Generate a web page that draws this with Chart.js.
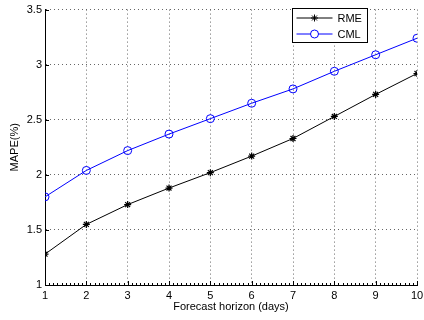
<!DOCTYPE html>
<html>
<head>
<meta charset="utf-8">
<script src="https://cdn.jsdelivr.net/npm/chart.js@4.4.1/dist/chart.umd.min.js"></script>
<style>
  html, body { margin: 0; padding: 0; background: #fff; }
  #wrap { position: relative; width: 424px; height: 320px; }
</style>
</head>
<body>
<div id="wrap"><canvas id="grafica" width="424" height="320"></canvas></div>
<script>
// horizonte de prediccion (dias) y error MAPE de cada metodo
const horizontes = [1, 2, 3, 4, 5, 6, 7, 8, 9, 10];
const mapeRME = [1.28, 1.55, 1.73, 1.88, 2.02, 2.17, 2.33, 2.53, 2.73, 2.92];
const mapeCML = [1.80, 2.04, 2.22, 2.37, 2.51, 2.65, 2.78, 2.94, 3.09, 3.24];
const yTicks = [1, 1.5, 2, 2.5, 3, 3.5];
const yTickLabels = ['1', '1.5', '2', '2.5', '3', '3.5'];
const xTickLabels = ['1', '2', '3', '4', '5', '6', '7', '8', '9', '10'];

const fuente = '"Liberation Sans", Arial, Helvetica, sans-serif';

const puntos = (vals) => horizontes.map((h, i) => ({ x: h, y: vals[i] }));

// ticks hacia adentro estilo matlab + leyenda con linea y marcador
const ejesMatlab = {
  id: 'ejesMatlab',
  afterDraw(chart) {
    const ctx = chart.ctx;
    const xs = chart.scales.x, ys = chart.scales.y;
    const a = chart.chartArea;
    ctx.save();
    ctx.strokeStyle = '#000';
    ctx.lineWidth = 1;
    ctx.beginPath();
    // menores en x cada 0.1
    for (let v = horizontes[0]; v <= horizontes[horizontes.length - 1] + 1e-6; v += 0.1) {
      const px = Math.round(xs.getPixelForValue(v)) + 0.5;
      const mayor = Math.abs(v - Math.round(v)) < 1e-6;
      ctx.moveTo(px, a.bottom);
      ctx.lineTo(px, a.bottom - (mayor ? 4 : 2));
    }
    yTicks.forEach(v => {
      const py = Math.round(ys.getPixelForValue(v)) + 0.5;
      ctx.moveTo(a.left, py);
      ctx.lineTo(a.left + 4, py);
    });
    ctx.stroke();

    // leyenda
    const bx = 292.5, by = 8.5, bw = 75, bh = 34;
    ctx.fillStyle = '#fff';
    ctx.fillRect(bx, by, bw, bh);
    ctx.strokeRect(bx, by, bw, bh);
    const filasY = [by + 9.5, by + 25.5];
    chart.data.datasets.forEach((ds, i) => {
      const fy = filasY[i];
      ctx.strokeStyle = ds.borderColor;
      ctx.lineWidth = 1;
      ctx.beginPath();
      ctx.moveTo(bx + 4, fy);
      ctx.lineTo(bx + 40, fy);
      ctx.stroke();
      ctx.fillStyle = '#fff';
      Chart.helpers.drawPoint(ctx, {
        pointStyle: ds.pointStyle,
        radius: ds.pointRadius,
        borderWidth: 1
      }, bx + 22, fy);
      ctx.fillStyle = '#000';
      ctx.font = '11px ' + fuente;
      ctx.textBaseline = 'middle';
      ctx.textAlign = 'left';
      ctx.fillText(ds.label, bx + 45, fy + 0.5);
    });
    ctx.restore();
  }
};

new Chart(document.querySelector('#grafica'), {
  type: 'line',
  data: {
    datasets: [
      {
        label: 'RME',
        data: puntos(mapeRME),
        borderColor: '#000000',
        backgroundColor: '#000000',
        borderWidth: 1,
        pointStyle: 'star',
        pointRadius: 3.5,
        pointBorderWidth: 1.2,
        tension: 0
      },
      {
        label: 'CML',
        data: puntos(mapeCML),
        borderColor: '#0000ff',
        backgroundColor: 'rgba(255,255,255,0)',
        borderWidth: 1,
        pointStyle: 'circle',
        pointRadius: 4,
        pointBorderWidth: 1,
        tension: 0
      }
    ]
  },
  options: {
    responsive: false,
    animation: false,
    devicePixelRatio: 1,
    layout: { padding: { top: 9, right: 7, left: 0, bottom: 0 } },
    plugins: {
      legend: { display: false },
      tooltip: { enabled: false }
    },
    scales: {
      x: {
        type: 'linear',
        min: 1,
        max: 10,
        afterBuildTicks: s => { s.ticks = horizontes.map(v => ({ value: v })); },
        afterFit: s => { s.height = 35; s.paddingRight = 0; s.paddingLeft = 0; },
        ticks: {
          color: '#000',
          padding: 4,
          maxRotation: 0,
          autoSkip: false,
          font: { family: fuente, size: 11 },
          callback: (v, i) => xTickLabels[i]
        },
        grid: {
          color: '#666',
          lineWidth: 1,
          drawTicks: false
        },
        border: { display: true, color: '#000', width: 1, dash: [1, 3] },
        title: {
          display: true,
          text: 'Forecast horizon (days)',
          color: '#000',
          font: { family: fuente, size: 11 },
          padding: { top: 0, bottom: 6 }
        }
      },
      y: {
        min: 1,
        max: 3.5,
        afterBuildTicks: s => { s.ticks = yTicks.map(v => ({ value: v })); },
        afterFit: s => { s.width = 45; },
        ticks: {
          color: '#000',
          padding: 3,
          autoSkip: false,
          font: { family: fuente, size: 11 },
          callback: (v, i) => yTickLabels[i]
        },
        grid: {
          color: '#666',
          lineWidth: 1,
          drawTicks: false
        },
        border: { display: true, color: '#000', width: 1, dash: [1, 3] },
        title: {
          display: true,
          text: 'MAPE(%)',
          color: '#000',
          font: { family: fuente, size: 11 },
          padding: { top: 8, bottom: 0 }
        }
      }
    }
  },
  plugins: [ejesMatlab]
});
</script>
</body>
</html>
